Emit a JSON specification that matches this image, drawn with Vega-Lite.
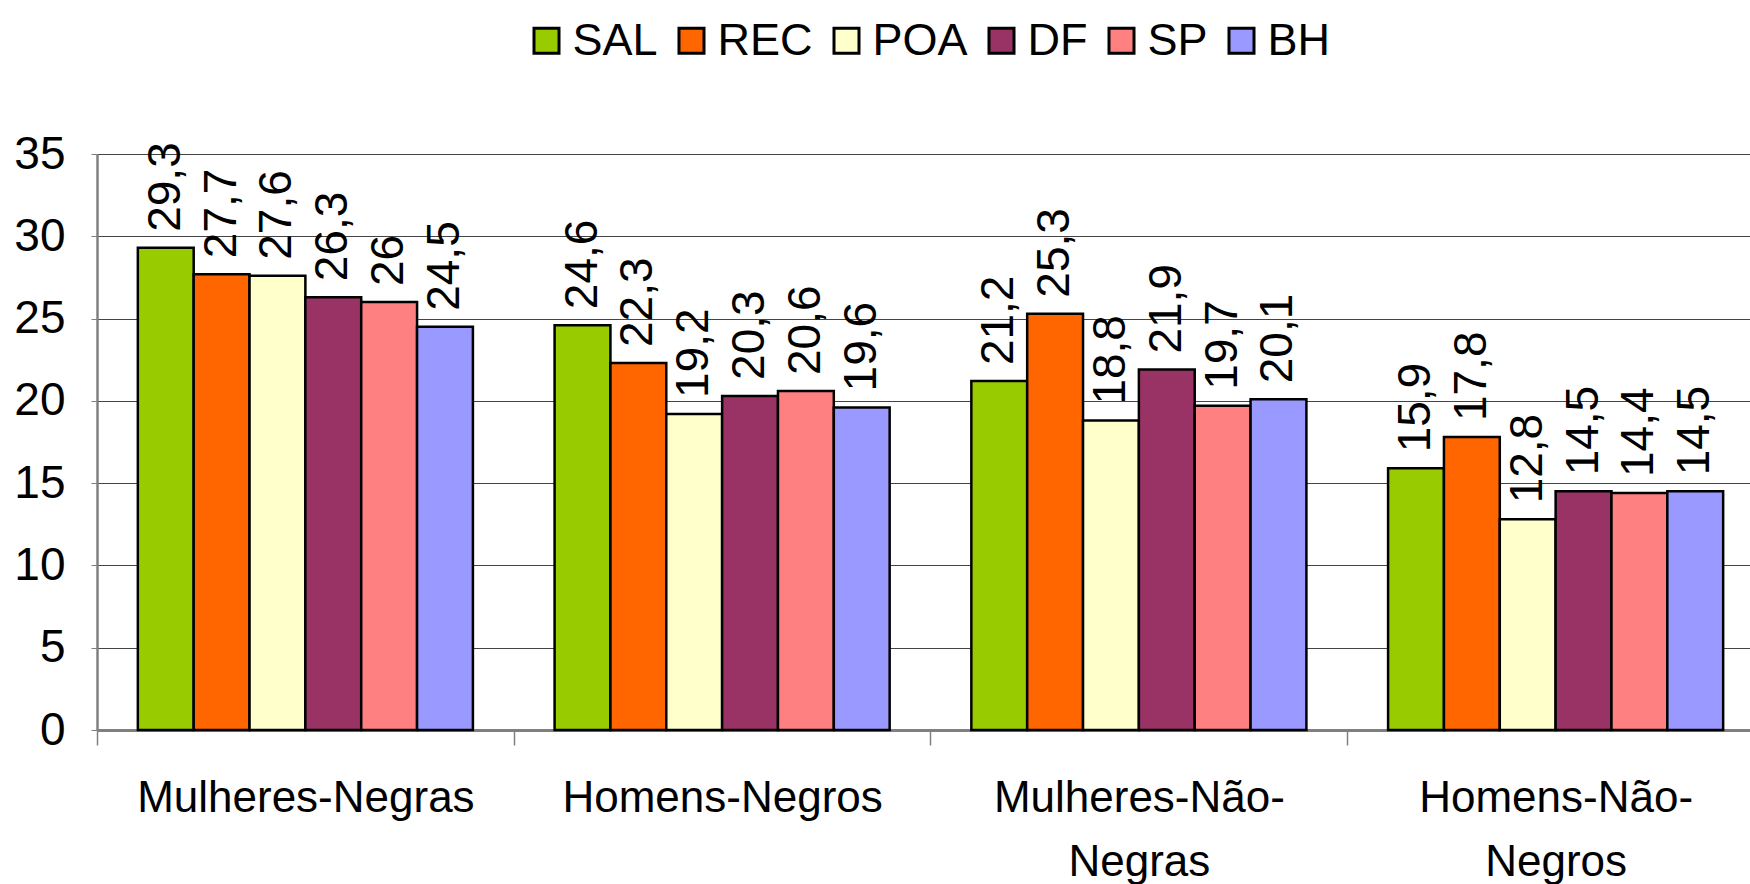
{
  "$schema": "https://vega.github.io/schema/vega-lite/v6.json",
  "autosize": {"type": "none"},
  "width": 1667,
  "height": 576,
  "padding": {"left": 97, "top": 154, "right": 0, "bottom": 154},
  "background": "white",
  "data": {
    "values": [
      {"grupo": "Mulheres-Negras", "cidade": "SAL", "valor": 29.3},
      {"grupo": "Mulheres-Negras", "cidade": "REC", "valor": 27.7},
      {"grupo": "Mulheres-Negras", "cidade": "POA", "valor": 27.6},
      {"grupo": "Mulheres-Negras", "cidade": "DF", "valor": 26.3},
      {"grupo": "Mulheres-Negras", "cidade": "SP", "valor": 26},
      {"grupo": "Mulheres-Negras", "cidade": "BH", "valor": 24.5},
      {"grupo": "Homens-Negros", "cidade": "SAL", "valor": 24.6},
      {"grupo": "Homens-Negros", "cidade": "REC", "valor": 22.3},
      {"grupo": "Homens-Negros", "cidade": "POA", "valor": 19.2},
      {"grupo": "Homens-Negros", "cidade": "DF", "valor": 20.3},
      {"grupo": "Homens-Negros", "cidade": "SP", "valor": 20.6},
      {"grupo": "Homens-Negros", "cidade": "BH", "valor": 19.6},
      {"grupo": "Mulheres-Não-Negras", "cidade": "SAL", "valor": 21.2},
      {"grupo": "Mulheres-Não-Negras", "cidade": "REC", "valor": 25.3},
      {"grupo": "Mulheres-Não-Negras", "cidade": "POA", "valor": 18.8},
      {"grupo": "Mulheres-Não-Negras", "cidade": "DF", "valor": 21.9},
      {"grupo": "Mulheres-Não-Negras", "cidade": "SP", "valor": 19.7},
      {"grupo": "Mulheres-Não-Negras", "cidade": "BH", "valor": 20.1},
      {"grupo": "Homens-Não-Negros", "cidade": "SAL", "valor": 15.9},
      {"grupo": "Homens-Não-Negros", "cidade": "REC", "valor": 17.8},
      {"grupo": "Homens-Não-Negros", "cidade": "POA", "valor": 12.8},
      {"grupo": "Homens-Não-Negros", "cidade": "DF", "valor": 14.5},
      {"grupo": "Homens-Não-Negros", "cidade": "SP", "valor": 14.4},
      {"grupo": "Homens-Não-Negros", "cidade": "BH", "valor": 14.5}
    ]
  },
  "encoding": {
    "x": {
      "field": "grupo",
      "type": "nominal",
      "sort": ["Mulheres-Negras", "Homens-Negros", "Mulheres-Não-Negras", "Homens-Não-Negros"],
      "scale": {"paddingInner": 0.196, "paddingOuter": 0.098},
      "axis": {
        "title": null,
        "labelAngle": 0,
        "tickOffset": -208.4,
        "labelOffset": 208.4,
        "tickSize": 15,
        "tickColor": "#808080",
        "tickWidth": 1.5,
        "domainColor": "#808080",
        "domainWidth": 3,
        "labelFontSize": 44,
        "labelColor": "black",
        "labelPadding": 31,
        "labelLineHeight": 64,
        "labelBaseline": "top",
        "labelLimit": 800,
        "labelExpr": "datum.value == 'Mulheres-Não-Negras' ? ['Mulheres-Não-', 'Negras'] : datum.value == 'Homens-Não-Negros' ? ['Homens-Não-', 'Negros'] : datum.label"
      }
    },
    "xOffset": {
      "field": "cidade",
      "type": "nominal",
      "sort": ["SAL", "REC", "POA", "DF", "SP", "BH"],
      "scale": {"paddingInner": 0, "paddingOuter": 0}
    },
    "y": {
      "field": "valor",
      "type": "quantitative",
      "scale": {"domain": [0, 35], "nice": false},
      "axis": {
        "title": null,
        "values": [0, 5, 10, 15, 20, 25, 30, 35],
        "grid": true,
        "gridColor": "#444444",
        "gridWidth": 1,
        "tickSize": 6,
        "tickColor": "#808080",
        "domainColor": "#808080",
        "domainWidth": 2.5,
        "labelFontSize": 46,
        "labelColor": "black",
        "labelPadding": 26
      }
    }
  },
  "layer": [
    {
      "mark": {"type": "bar", "stroke": "black", "strokeWidth": 2.5},
      "encoding": {
        "color": {
          "field": "cidade",
          "type": "nominal",
          "sort": ["SAL", "REC", "POA", "DF", "SP", "BH"],
          "scale": {
            "domain": ["SAL", "REC", "POA", "DF", "SP", "BH"],
            "range": ["#99CC00", "#FF6600", "#FFFFCC", "#993366", "#FF8080", "#9999FF"]
          },
          "legend": {
            "title": null,
            "orient": "none",
            "direction": "horizontal",
            "legendX": 427,
            "legendY": -136,
            "symbolType": "M-1,-1H1V1H-1Z",
            "symbolSize": 625,
            "symbolStrokeColor": "black",
            "symbolStrokeWidth": 3,
            "symbolOpacity": 1,
            "labelFontSize": 45,
            "labelColor": "black",
            "labelOffset": 3.5,
            "columnPadding": 11
          }
        }
      }
    },
    {
      "mark": {
        "type": "text",
        "angle": 270,
        "align": "left",
        "baseline": "middle",
        "dx": 16,
        "fontSize": 46,
        "color": "black"
      },
      "encoding": {
        "text": {"field": "valor", "type": "quantitative", "format": ".1~f"}
      }
    }
  ],
  "config": {
    "font": "Liberation Sans",
    "view": {"stroke": null},
    "locale": {
      "number": {"decimal": ",", "thousands": ".", "grouping": [3], "currency": ["R$", ""]}
    }
  }
}
